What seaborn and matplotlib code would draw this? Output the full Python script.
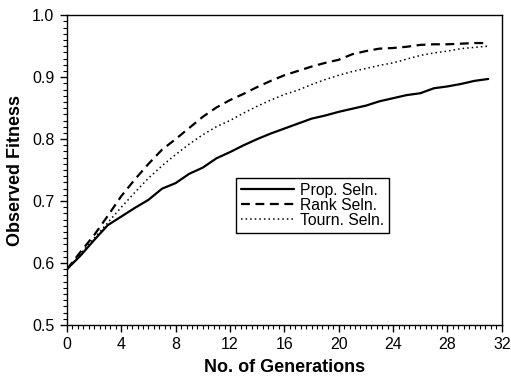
import numpy as np
import pandas as pd
import seaborn as sns
import matplotlib.pyplot as plt
from matplotlib.ticker import MultipleLocator

generations = list(range(32))
prop_seln = [0.590, 0.612, 0.637, 0.661, 0.675, 0.689, 0.702, 0.720, 0.729, 0.744,
             0.754, 0.769, 0.779, 0.790, 0.800, 0.809, 0.817, 0.825, 0.833, 0.838,
             0.844, 0.849, 0.854, 0.861, 0.866, 0.871, 0.874, 0.882, 0.885, 0.889,
             0.894, 0.897]
rank_seln = [0.590, 0.618, 0.645, 0.676, 0.708, 0.735, 0.760, 0.783, 0.800, 0.818,
             0.836, 0.851, 0.863, 0.873, 0.884, 0.894, 0.903, 0.910, 0.917, 0.923,
             0.928, 0.937, 0.942, 0.946, 0.947, 0.949, 0.952, 0.953, 0.953, 0.954,
             0.955, 0.955]
tourn_seln = [0.590, 0.615, 0.640, 0.665, 0.690, 0.714, 0.737, 0.757, 0.775, 0.792,
              0.807, 0.820, 0.830, 0.842, 0.853, 0.863, 0.872, 0.879, 0.888, 0.896,
              0.903, 0.909, 0.914, 0.919, 0.923, 0.929, 0.935, 0.939, 0.942, 0.946,
              0.948, 0.950]
labels = ["Prop. Seln.", "Rank Seln.", "Tourn. Seln."]

data = pd.DataFrame({
    "gen": generations * 3,
    "fitness": prop_seln + rank_seln + tourn_seln,
    "method": [labels[0]] * 32 + [labels[1]] * 32 + [labels[2]] * 32,
})

sns.set_style("ticks")
plt.rcParams['font.family'] = ['Liberation Sans', 'DejaVu Sans']
plt.rcParams['text.color'] = 'black'
plt.rcParams['axes.labelcolor'] = 'black'
plt.rcParams['xtick.color'] = 'black'
plt.rcParams['ytick.color'] = 'black'

fig = plt.figure(figsize=(5.11, 3.79), dpi=100)
ax = fig.add_axes([0.131, 0.1425, 0.851, 0.8175])

sns.lineplot(data=data, x="gen", y="fitness", style="method", hue="method",
             palette=["black"] * 3, dashes=[(None, None), (4, 2.5), (1, 2)],
             ax=ax, legend=True)
for line, lw in zip(ax.lines, [1.6, 1.6, 1.1]):
    line.set_linewidth(lw)

ax.set_xlim(0, 32)
ax.set_ylim(0.5, 1.0)
ax.xaxis.set_major_locator(MultipleLocator(4))
ax.xaxis.set_minor_locator(MultipleLocator(0.4))
ax.yaxis.set_major_locator(MultipleLocator(0.1))
ax.yaxis.set_minor_locator(MultipleLocator(0.01))
ax.yaxis.set_major_formatter(plt.FormatStrFormatter('%.1f'))
ax.tick_params(which='major', direction='out', length=5, width=1, labelsize=11.5,
               color='black', labelcolor='black', pad=4)
ax.tick_params(which='minor', direction='out', length=3, width=0.8, color='black')
for s in ax.spines.values():
    s.set_color('black')
    s.set_linewidth(1)

ax.set_xlabel("No. of Generations", fontsize=13, fontweight='bold', labelpad=5, color='black')
ax.set_ylabel("Observed Fitness", fontsize=13, fontweight='bold', labelpad=6, color='black')

leg = ax.legend(loc='upper left', bbox_to_anchor=(0.389, 0.474), fontsize=11.3,
                frameon=True, fancybox=False, edgecolor='black', framealpha=1,
                borderaxespad=0, handlelength=3.4, borderpad=0.3, labelspacing=0.0,
                handletextpad=0.4)
leg.get_frame().set_linewidth(1)
for h, lw in zip(leg.get_lines(), [1.6, 1.6, 1.1]):
    h.set_linewidth(lw)
for t in leg.get_texts():
    t.set_color('black')

fig.savefig("out.png", dpi=100)
